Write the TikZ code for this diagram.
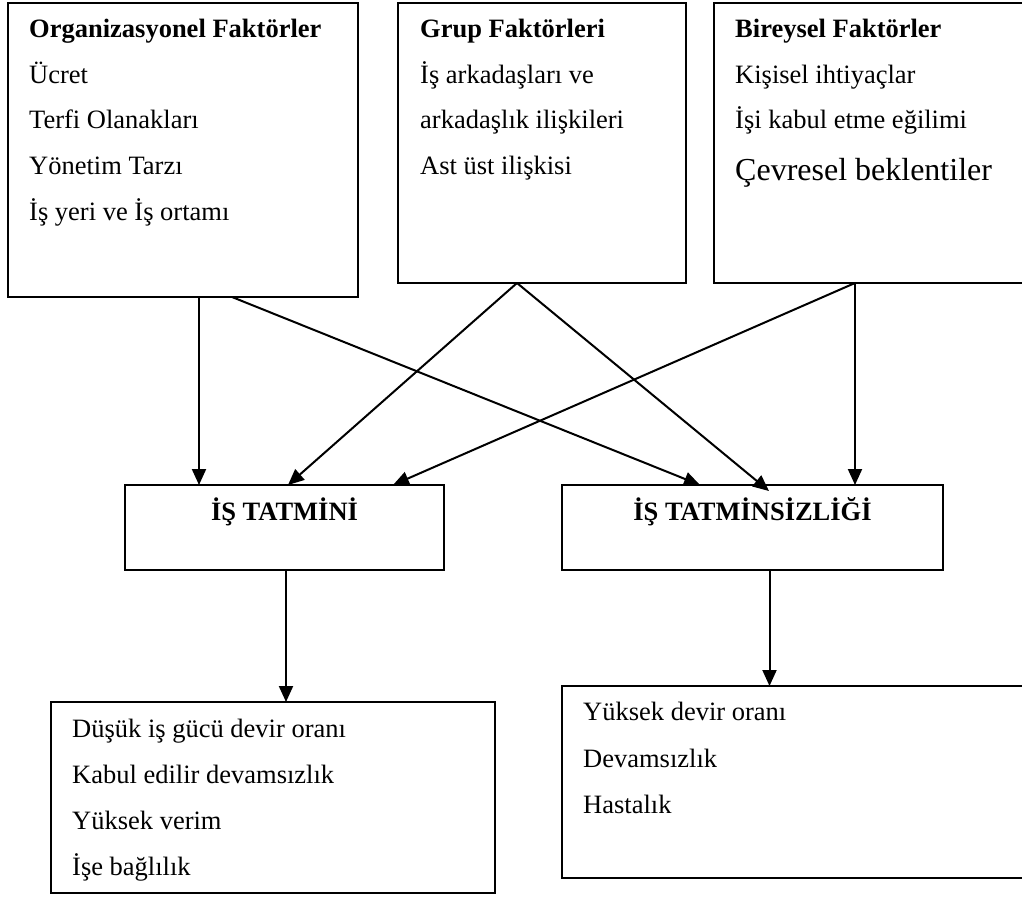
\documentclass[tikz,border=0pt]{standalone}
\usepackage{fontspec}
\setmainfont{Liberation Serif}
\usetikzlibrary{arrows.meta}
\tikzset{
  box/.style={draw, line width=2pt, rectangle, outer sep=0pt, inner sep=0pt, anchor=north west},
  txt/.style={anchor=base west, inner sep=0pt, font=\fontsize{26.5pt}{32pt}\selectfont},
  hd/.style={anchor=base west, inner sep=0pt, font=\fontsize{26.5pt}{32pt}\selectfont\bfseries},
  bigtxt/.style={anchor=base west, inner sep=0pt, font=\fontsize{32pt}{37pt}\selectfont},
  ctr/.style={anchor=base, inner sep=0pt, font=\fontsize{26.5pt}{32pt}\selectfont\bfseries},
  arr/.style={line width=2pt, -{Triangle[length=16pt,width=14pt]}},
}
\begin{document}
\begin{tikzpicture}[x=1pt,y=-1pt]
\useasboundingbox (0,0) rectangle (1022,898);
\clip (0,0) rectangle (1022,898);

% boxes
\node[box, minimum width=350pt, minimum height=294pt] (org) at (8,3) {};
\node[box, minimum width=288pt, minimum height=280pt] (grp) at (398,3) {};
\node[box, minimum width=330pt, minimum height=280pt] (ind) at (714,3) {};
\node[box, minimum width=319pt, minimum height=85pt] (sat) at (125,485) {};
\node[box, minimum width=381pt, minimum height=85pt] (dis) at (562,485) {};
\node[box, minimum width=444pt, minimum height=191pt] (outL) at (51,702) {};
\node[box, minimum width=480pt, minimum height=192pt] (outR) at (562,686) {};

% texts: organizational
\node[hd]  (o0) at (29,37)  {Organizasyonel Faktörler};
\node[txt] (o1) at (29,83)  {Ücret};
\node[txt] (o2) at (29,128.5) {Terfi Olanakları};
\node[txt] (o3) at (29,174) {Yönetim Tarzı};
\node[txt] (o4) at (29,220) {İş yeri ve İş ortamı};

% group
\node[hd]  (g0) at (420,37)  {Grup Faktörleri};
\node[txt] (g1) at (420,83)  {İş arkadaşları ve};
\node[txt] (g2) at (420,128.5) {arkadaşlık ilişkileri};
\node[txt] (g3) at (420,174) {Ast üst ilişkisi};

% individual
\node[hd]  (b0) at (735,37)  {Bireysel Faktörler};
\node[txt] (b1) at (735,83)  {Kişisel ihtiyaçlar};
\node[txt] (b2) at (735,128.5) {İşi kabul etme eğilimi};
\node[bigtxt] (b3) at (735,180) {Çevresel beklentiler};

% middle
\node[ctr] (satT) at ([yshift=-35pt]sat.north) {İŞ TATMİNİ};
\node[ctr] (disT) at ([yshift=-35pt]dis.north) {İŞ TATMİNSİZLİĞİ};

% outcomes
\node[txt] (l1) at (72,737) {Düşük iş gücü devir oranı};
\node[txt] (l2) at (72,783) {Kabul edilir devamsızlık};
\node[txt] (l3) at (72,829) {Yüksek verim};
\node[txt] (l4) at (72,875) {İşe bağlılık};

\node[txt] (r1) at (583,720) {Yüksek devir oranı};
\node[txt] (r2) at (583,767) {Devamsızlık};
\node[txt] (r3) at (583,813) {Hastalık};

% connectors
\draw[arr] ([xshift=191pt]org.south west) -- ([xshift=74pt]sat.north west);
\draw[arr] ([xshift=224pt]org.south west) -- ([xshift=138pt]dis.north west);
\draw[arr] ([xshift=119pt]grp.south west) -- ([xshift=163pt]sat.north west);
\draw[arr] ([xshift=119pt]grp.south west) -- ([xshift=207pt,yshift=-6pt]dis.north west);
\draw[arr] ([xshift=141pt]ind.south west) -- ([xshift=268pt]sat.north west);
\draw[arr] ([xshift=141pt]ind.south west) -- ([xshift=293pt]dis.north west);
\draw[arr] ([xshift=161pt]sat.south west) -- ([xshift=235pt]outL.north west);
\draw[arr] ([xshift=207.5pt]dis.south west) -- ([xshift=207.5pt]outR.north west);
\end{tikzpicture}
\end{document}
